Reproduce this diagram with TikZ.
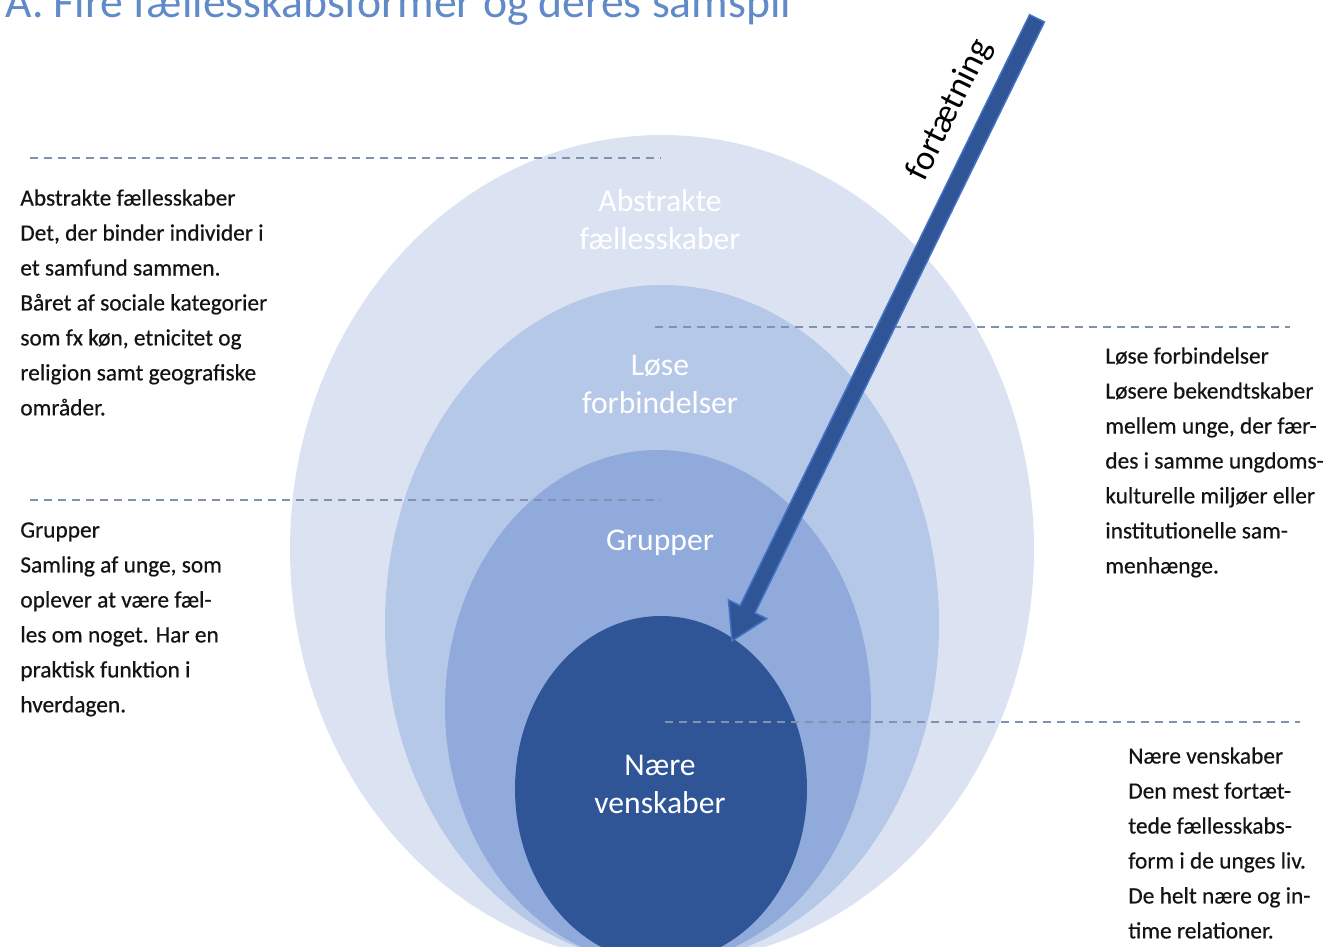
\documentclass[tikz,border=0pt]{standalone}
\usepackage{fontspec}
\setmainfont{Carlito}
\newfontfamily\notefont[FakeBold=0.5]{Carlito}
\usepackage{xcolor}
\usetikzlibrary{shapes.arrows}
\definecolor{ringabstrakt}{RGB}{219,227,243}
\definecolor{ringloese}{RGB}{182,200,231}
\definecolor{ringgrupper}{RGB}{144,170,220}
\definecolor{ringnaere}{RGB}{47,85,151}
\definecolor{arrowedge}{RGB}{68,114,196}
\definecolor{titleblue}{RGB}{96,138,200}
\definecolor{leadergray}{RGB}{128,146,176}
\definecolor{sidetext}{RGB}{20,20,20}

\begin{document}
\begin{tikzpicture}[x=0.02cm,y=-0.02cm,
  sidenote/.style={anchor=north west, align=left, inner sep=0pt, text=sidetext,
    font=\notefont\fontsize{13.3}{19.9}\selectfont},
  ringlabel/.style={align=center, inner sep=0pt, text=white,
    font=\fontsize{18}{21.6}\selectfont},
  leader/.style={leadergray, line width=0.035cm, dash pattern=on 0.16cm off 0.12cm}]

\useasboundingbox (0,0) rectangle (1326,947);
\fill[white] (0,0) rectangle (1326,947);

% Title (cut at the top edge)
\node[anchor=base west, inner sep=0pt, text=titleblue,
  font=\fontsize{26}{30}\selectfont] (title) at (5,17)
  {A. Fire fællesskabsformer og deres samspil};

% Nested ellipses, all meeting below the bottom edge
\fill[ringabstrakt] (662,549) ellipse [x radius=372, y radius=414];
\fill[ringloese]    (662,624) ellipse [x radius=277, y radius=339];
\fill[ringgrupper]  (658,707) ellipse [x radius=213, y radius=257];
\fill[ringnaere]    (661,789) ellipse [x radius=146, y radius=173];

% Labels inside the ellipses
\node[ringlabel] (abstrakt) at (660,220) {Abstrakte\\fællesskaber};
\node[ringlabel] (loese)    at (660,384) {Løse\\forbindelser};
\node[ringlabel] (grupper)  at (660,543) {Grupper};
\node[ringlabel] (naere)    at (660,784) {Nære\\venskaber};

% Dashed leader lines
\draw[leader] (30,158) -- (660,158);
\draw[leader] (655,327) -- (1290,327);
\draw[leader] (30,500) -- (660,500);
\draw[leader] (665,722) -- (1300,722);

% Side descriptions
\node[sidenote] (abstrakt-note) at (20,189)
  {Abstrakte fællesskaber\\Det, der binder individer i\\et samfund sammen.\\
   Båret af sociale kategorier\\som fx køn, etnicitet og\\religion samt geografiske\\områder.};
\node[sidenote] (loese-note) at (1105,347)
  {Løse forbindelser\\Løsere bekendtskaber\\mellem unge, der fær-\\des i samme ungdoms-\\
   kulturelle miljøer eller\\institutionelle sam-\\menhænge.};
\node[sidenote] (grupper-note) at (20,522)
  {Grupper\\Samling af unge, som\\oplever at være fæl-\\les om noget. Har en\\
   praktisk funktion i\\hverdagen.};
\node[sidenote] (naere-note) at (1128,747)
  {Nære venskaber\\Den mest fortæt-\\tede fællesskabs-\\form i de unges liv.\\
   De helt nære og in-\\time relationer.};

% Arrow pointing into the closest circle
\node[single arrow, draw=arrowedge, fill=ringnaere, line width=0.03cm,
  inner xsep=0pt, inner ysep=0.15cm, minimum height=13.87cm,
  single arrow head extend=0.26cm, single arrow tip angle=62,
  rotate=243.9] (fortaet) at (887.5,323.5) {};
\node[rotate=63.9, inner sep=0pt, font=\fontsize{20}{24}\selectfont]
  (fortaet-label) at (950,110) {fortætning};

\end{tikzpicture}
\end{document}
